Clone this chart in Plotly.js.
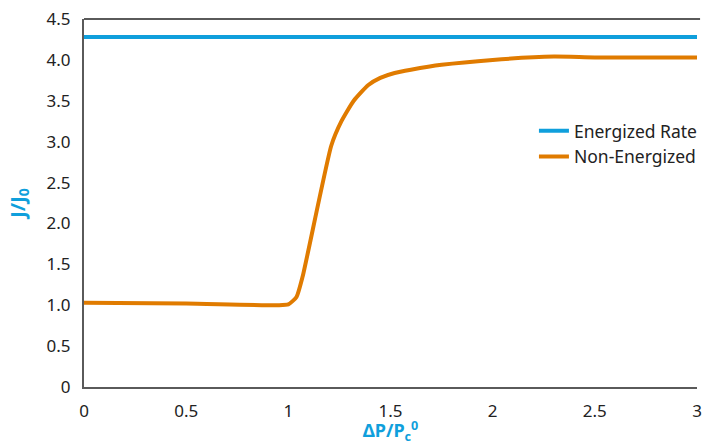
<!DOCTYPE html>
<html>
<head>
<meta charset="utf-8">
<script src="https://cdn.plot.ly/plotly-3.0.1.min.js"></script>
<style>html,body{margin:0;padding:0;background:#fff;}#chart{width:716px;height:445px;}</style>
</head>
<body>
<div id="chart"></div>
<script>
// Data
var energizedX = [0, 3];
var energizedY = [4.28, 4.28];
var nonEnergizedX = [0, 0.5, 0.95, 1.0, 1.04, 1.07, 1.21, 1.26, 1.32, 1.39, 1.45, 1.52, 1.6, 1.75, 2.0, 2.3, 2.5, 3.0];
var nonEnergizedY = [1.03, 1.02, 1.0, 1.01, 1.1, 1.35, 2.95, 3.25, 3.5, 3.69, 3.78, 3.84, 3.88, 3.94, 4.0, 4.04, 4.03, 4.03];
var yTickVals = [0, 0.5, 1, 1.5, 2, 2.5, 3, 3.5, 4, 4.5];
var yTickText = ["0", "0.5", "1.0", "1.5", "2.0", "2.5", "3.0", "3.5", "4.0", "4.5"];
var xTickVals = [0, 0.5, 1, 1.5, 2, 2.5, 3];
var xTickText = ["0", "0.5", "1", "1.5", "2", "2.5", "3"];
var seriesNames = ["Energized Rate", "Non-Energized"];

var blue = "#0f9fdc";
var orange = "#e07b00";
var font = "Noto Sans, sans-serif";

var traces = [
  {x: energizedX, y: energizedY, name: seriesNames[0], mode: "lines",
   line: {color: blue, width: 4}},
  {x: nonEnergizedX, y: nonEnergizedY, name: seriesNames[1], mode: "lines",
   line: {color: orange, width: 4, shape: "spline", smoothing: 0.5}}
];

var layout = {
  width: 716, height: 445,
  margin: {l: 84, r: 19, t: 19, b: 58},
  paper_bgcolor: "#fff", plot_bgcolor: "#fff",
  font: {family: font, size: 16, color: "#222"},
  showlegend: true,
  legend: {x: 0.734, y: 0.745, xanchor: "left", yanchor: "top",
           font: {family: font, size: 17.5, color: "#222"},
           bgcolor: "rgba(0,0,0,0)", tracegroupgap: 0, itemwidth: 30},
  xaxis: {
    range: [0, 3], tickvals: xTickVals, ticktext: xTickText, automargin: false,
    showgrid: false, zeroline: false, showline: true, linecolor: "#5a5a5a", linewidth: 2,
    ticks: "", ticklabelstandoff: 8,
    tickfont: {family: font, size: 17, color: "#222"},
    title: {text: "<b>ΔP/P<sub>c</sub><sup>0</sup></b>", font: {family: font, size: 18, color: blue}, standoff: 7}
  },
  yaxis: {
    range: [0, 4.5], tickvals: yTickVals, ticktext: yTickText, automargin: false,
    showgrid: false, zeroline: false, showline: true, linecolor: "#5a5a5a", linewidth: 2,
    ticks: "", ticklabelstandoff: 8,
    tickfont: {family: font, size: 17, color: "#222"},
    title: {text: "<b>J/J<sub>0</sub></b>", font: {family: font, size: 20, color: blue}, standoff: 16}
  },
  shapes: [
    {type: "line", xref: "paper", yref: "paper", x0: 0, x1: 1.005, y0: 1, y1: 1,
     line: {color: "#5a5a5a", width: 2}}
  ]
};

Plotly.newPlot("chart", traces, layout, {displayModeBar: false, staticPlot: true});
</script>
</body>
</html>
